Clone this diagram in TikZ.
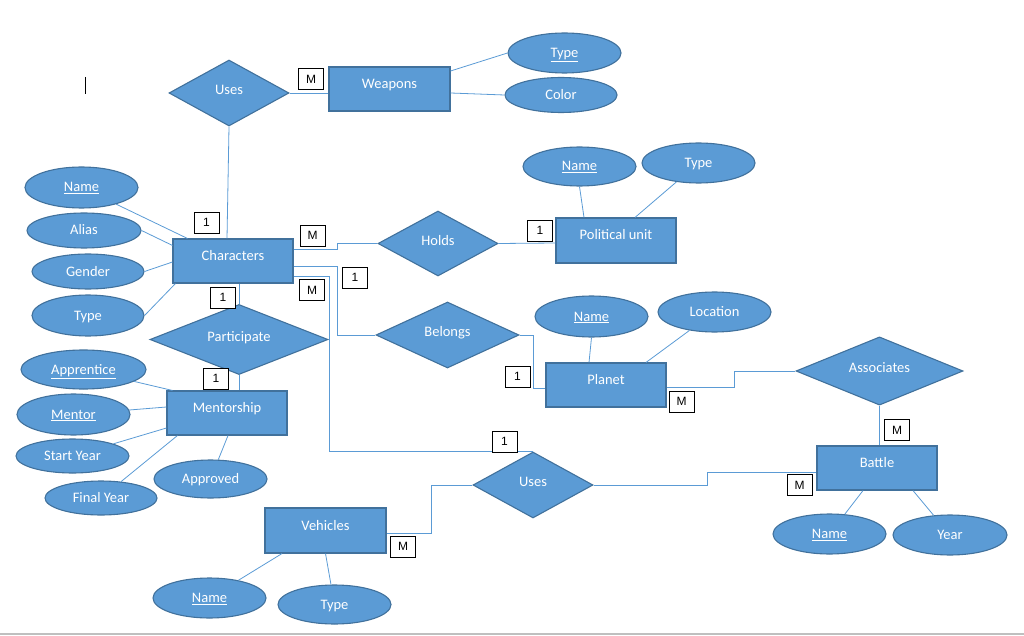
\documentclass[tikz,border=0pt]{standalone}
\usepackage{fontspec}
\usetikzlibrary{shapes.geometric}
\newfontfamily\carl{Carlito}
\newfontfamily\arl{Liberation Sans}
\definecolor{fillc}{HTML}{5B9BD5}
\definecolor{bordc}{HTML}{41719C}
\definecolor{connc}{HTML}{5B9BD5}
\tikzset{
  base/.style={fill=fillc, draw=bordc, line width=1.1pt, inner sep=0pt, text=white, font=\carl\fontsize{14.5}{16}\selectfont},
  ent/.style={base, rectangle, minimum width=120pt, minimum height=44pt, text height=6pt, text depth=7pt},
  attr/.style={base, ellipse, minimum width=113pt, minimum height=40pt, text height=9pt, text depth=0pt},
  rel/.style={base, diamond, minimum width=120pt, minimum height=66pt, text height=5pt, text depth=2pt},
  card/.style={draw=black, fill=white, line width=0.8pt, inner sep=0pt, minimum width=25pt, minimum height=21pt, font=\arl\fontsize{12}{13}\selectfont, text height=8.5pt, text depth=0pt},
  conn/.style={draw=connc, line width=0.8pt}
}
\begin{document}
\begin{tikzpicture}[x=1pt,y=-1pt]
\useasboundingbox (0,0) rectangle (1024,636);
% entities
\node[ent, minimum width=121pt] (weap) at (389.5,89) {Weapons};
\node[ent] (char) at (233,261) {Characters};
\node[ent, minimum height=45pt] (pu) at (616,240.5) {Political unit};
\node[ent] (planet) at (606,385) {Planet};
\node[ent] (ment) at (227,413) {Mentorship};
\node[ent, minimum width=121pt, minimum height=45pt] (veh) at (325.5,530.5) {Vehicles};
\node[ent] (battle) at (877,468) {Battle};
% relationships
\node[rel] (usesW) at (229,93) {Uses};
\node[rel, minimum height=65pt] (holds) at (438,243.5) {Holds};
\node[rel, minimum width=143pt] (belongs) at (447.5,335) {Belongs};
\node[rel, minimum width=178pt, minimum height=65pt] (part) at (239,339.5) {Participate};
\node[rel] (usesV) at (533,485) {Uses};
\node[rel, minimum width=167pt] (assoc) at (879.5,371) {Associates};
% attributes
\node[attr] (wtype) at (564.5,53) {\underline{Type}};
\node[attr, minimum width=112pt, minimum height=35pt] (wcolor) at (561,95) {Color};
\node[attr, minimum height=41pt] (cname) at (81.5,187.5) {\underline{Name}};
\node[attr, minimum width=114pt, minimum height=35pt] (calias) at (84,230.5) {Alias};
\node[attr, minimum width=112pt, minimum height=35pt] (cgender) at (88,271.5) {Gender};
\node[attr, minimum width=112pt, minimum height=41pt] (ctype) at (88,315.5) {Type};
\node[attr, minimum height=39pt] (puname) at (579.5,166.5) {\underline{Name}};
\node[attr] (putype) at (698.5,163) {Type};
\node[attr, minimum height=41pt] (pname) at (591.5,316.5) {\underline{Name}};
\node[attr] (ploc) at (714.5,312) {Location};
\node[attr, minimum width=125pt, minimum height=39pt] (mapp) at (83.5,369.5) {\underline{Apprentice}};
\node[attr, minimum height=41pt] (mmentor) at (73.5,414.5) {\underline{Mentor}};
\node[attr, minimum height=34pt] (mstart) at (72.5,456) {Start Year};
\node[attr, minimum width=112pt, minimum height=34pt] (mfinal) at (101,498) {Final Year};
\node[attr, minimum height=38pt] (mappr) at (210.5,479) {Approved};
\node[attr] (vname) at (209.5,598) {\underline{Name}};
\node[attr, minimum height=39pt] (vtype) at (334.5,604.5) {Type};
\node[attr] (bname) at (829.5,534) {\underline{Name}};
\node[attr, minimum width=114pt] (byear) at (950,535) {Year};
% connectors
\draw[conn] (usesW.east) -- ([yshift=-4pt]weap.west);
\draw[conn] ([yshift=18pt]weap.east) -- (wtype.west);
\draw[conn] ([yshift=-4pt]weap.east) -- (wcolor.west);
\draw[conn] (usesW.south) -- ([xshift=-6pt]char.north);
\draw[conn] (cname) -- ([xshift=15pt]char.north west);
\draw[conn] (calias.east) -- ([yshift=-7pt]char.north west);
\draw[conn] (cgender.east) -- ([yshift=-1pt]char.west);
\draw[conn] (ctype.east) -- ([xshift=3pt]char.south west);
\draw[conn] ([yshift=12pt]char.east) -- ++(44,0) |- (holds.west);
\draw[conn] (holds.east) -- ([yshift=-2.5pt]pu.west);
\draw[conn] (puname.south) -- ([xshift=-32pt]pu.north);
\draw[conn] (putype) -- ([xshift=19pt]pu.north);
\draw[conn] ([yshift=-5pt]char.east) -- ++(44,0) |- (belongs.west);
\draw[conn] (belongs.east) -- ++(14,0) |- ([yshift=-3pt]planet.west);
\draw[conn] (pname.south) -- ([xshift=-17pt]planet.north);
\draw[conn] (ploc) -- ([xshift=40pt]planet.north);
\draw[conn] ([yshift=-2pt]planet.east) -- ++(68,0) |- (assoc.west);
\draw[conn] (assoc.south) -- (assoc.south |- battle.north);
\draw[conn] ([yshift=-15pt]char.east) -- ++(36,0) |- (usesV.north);
\draw[conn] (usesV.west) -- ++(-41,0) |- ([yshift=-2.5pt]veh.east);
\draw[conn] (usesV.east) -- ++(114,0) |- ([yshift=-4pt]battle.west);
\draw[conn] ([xshift=-14pt]battle.south) -- (bname);
\draw[conn] ([xshift=36pt]battle.south) -- (byear);
\draw[conn] ([xshift=-43.5pt]veh.south) -- (vname);
\draw[conn] (veh.south) -- (vtype);
\draw[conn] ([xshift=6pt]char.south) -- (part.north);
\draw[conn] (part.south) -- ([xshift=12pt]ment.north);
\draw[conn] (mapp) -- ([xshift=6pt]ment.north west);
\draw[conn] (mmentor) -- ([yshift=6pt]ment.west);
\draw[conn] (mstart) -- ([yshift=-15pt]ment.west);
\draw[conn] (mfinal) -- ([xshift=11pt]ment.south west);
\draw[conn] (mappr) -- ([xshift=1pt]ment.south);
% cardinalities
\node[card] (k1) at (311,79) {M};
\node[card] (k2) at (206.5,222.5) {1};
\node[card] (k3) at (312.5,235.5) {M};
\node[card] (k4) at (540,230.5) {1};
\node[card] (k5) at (355,277.5) {1};
\node[card] (k6) at (312,290) {M};
\node[card] (k7) at (223,297.5) {1};
\node[card] (k8) at (216,378.5) {1};
\node[card] (k9) at (517.5,376.5) {1};
\node[card] (k10) at (681.5,401.5) {M};
\node[card] (k11) at (897,430) {M};
\node[card] (k12) at (504.5,441.5) {1};
\node[card] (k13) at (799.5,485) {M};
\node[card] (k14) at (403,546.5) {M};
% cursor mark and page edge
\draw[black, line width=0.8pt] (85,77) -- (85,94);
\draw[black!25, line width=1.2pt] (0,634) -- (1024,634);
\end{tikzpicture}
\end{document}
